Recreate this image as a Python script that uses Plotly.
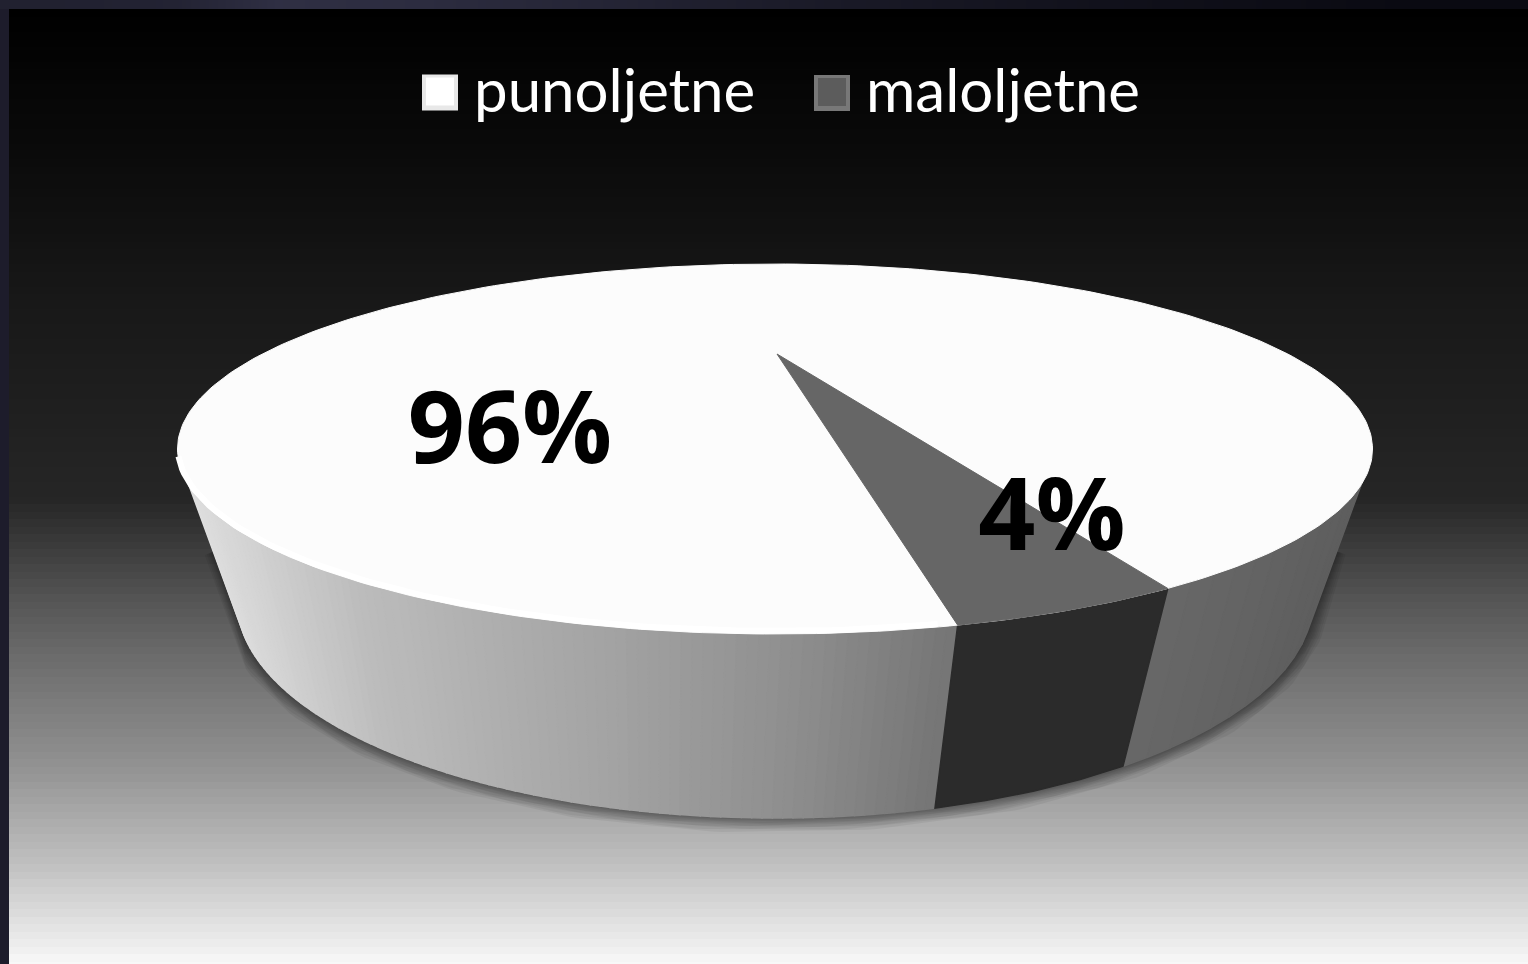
import numpy as np
import plotly.graph_objects as go

# ---- chart data ----
categories = ["punoljetne", "maloljetne"]
values = [96, 4]
value_labels = ["96%", "4%"]
label_x = [510, 1052]
label_y = [438, 525]
legend_marker_x = [440, 832]
legend_text_x = [474, 866]
legend_y = [97, 97]
legend_marker_y = [92.5, 93]
top_colors = ["#fcfcfc", "#666666"]
legend_outer = ["#e8e8e8", "#787878"]
legend_inner = ["#ffffff", "#5c5c5c"]

# ---- projection of the tilted pie ----
CX, CY, RX, RY = 775, 449, 597.5, 185
BCY, BRX, BRY = 600, 538, 218
APEX = (777, 354)
START_DEG = 48.9
PERSPECTIVE = 1.618
SIDE_LEFT_DEG, SIDE_RIGHT_DEG = 168.8, 11.2
BOT_LEFT_DEG, BOT_RIGHT_DEG = 171.6, 8.4

# ---- background gradient ----
bg_stop_y = [9, 150, 300, 420, 500, 600, 664, 764, 864, 964]
bg_stop_v = [0, 10, 24, 32, 38, 85, 110, 145, 192, 248]
bg_edges = list(np.arange(9, 972, 7.5))
bg_vals = [[float(np.interp(y + 3.75, bg_stop_y, bg_stop_v))] for y in bg_edges[:-1]]
strip_x = [0, 120, 230, 330, 500, 700, 1000, 1300, 1528]
strip_v = [30, 32, 45, 42, 34, 22, 12, 6, 6]

# side shading stops
shade_x = [190, 360, 600, 800, 950]
shade_v = [222, 188, 164, 142, 118]
right_x = [1165, 1350]
right_v = [104, 94]
wedge_side = "#2b2b2b"


def top_pt(t):
    r = np.radians(t)
    return CX + RX * np.cos(r), CY + RY * np.sin(r)


def bot_pt(t):
    r = np.radians(t)
    return CX + BRX * np.cos(r), BCY + BRY * np.sin(r)


def grey(v):
    v = int(round(v))
    return f"rgb({v},{v},{v})"


total = sum(values)
wedge_span = values[1] / total * 360 * PERSPECTIVE
wedge_a, wedge_b = START_DEG, START_DEG + wedge_span

GRAY = [[0, "#000000"], [1, "#ffffff"]]
fig = go.Figure()

# background panel
fig.add_trace(go.Heatmap(x=[9, 1528], y=bg_edges, z=bg_vals, colorscale=GRAY, zmin=0, zmax=255,
                         showscale=False, hoverinfo="skip"))
fig.add_trace(go.Heatmap(x=strip_x, y=[0, 9], z=[[float(v) for v in strip_v[:-1]]],
                         colorscale=[[0, "#04040a"], [1, "#34344a"]], zmin=0, zmax=50,
                         showscale=False, hoverinfo="skip", zsmooth="best"))

# soft shadow round the base
ts = np.linspace(BOT_LEFT_DEG, BOT_RIGHT_DEG, 160)
sx, sy = bot_pt(ts)
x0, y0 = top_pt(SIDE_LEFT_DEG)
x1, y1 = top_pt(SIDE_RIGHT_DEG)
sx = np.r_[x0 + 30, sx, x1 - 30]
sy = np.r_[y0 + 65, sy, y1 + 65]
for w in [30, 26, 22, 19, 16, 13, 10, 7, 4]:
    fig.add_trace(go.Scatter(x=sx, y=sy, mode="lines", line=dict(color="rgba(0,0,0,0.055)", width=w),
                             hoverinfo="skip", showlegend=False))


def side_segment(t_a, t_b, b_a, b_b, color):
    ta = np.linspace(t_a, t_b, 5)
    tb = np.linspace(b_b, b_a, 5)
    xa, ya = top_pt(ta)
    xb, yb = bot_pt(tb)
    fig.add_trace(go.Scatter(x=np.r_[xa, xb, xa[0]], y=np.r_[ya, yb, ya[0]], mode="lines", fill="toself",
                             fillcolor=color, line=dict(color=color, width=1.5),
                             hoverinfo="skip", showlegend=False))


def bmap(t):
    # maps top-rim angle to base-rim angle
    return np.interp(t, [SIDE_RIGHT_DEG, wedge_a, wedge_b, SIDE_LEFT_DEG],
                     [BOT_RIGHT_DEG, 49.7, 72.7, BOT_LEFT_DEG])


edges = np.linspace(SIDE_LEFT_DEG, wedge_b, 91)
for a, b in zip(edges[:-1], edges[1:]):
    xm = top_pt((a + b) / 2)[0]
    side_segment(a, b, bmap(a), bmap(b), grey(np.interp(xm, shade_x, shade_v)))
edges = np.linspace(wedge_a, SIDE_RIGHT_DEG, 13)
for a, b in zip(edges[:-1], edges[1:]):
    xm = top_pt((a + b) / 2)[0]
    side_segment(a, b, bmap(a), bmap(b), grey(np.interp(xm, right_x, right_v)))
side_segment(wedge_b, wedge_a, bmap(wedge_b), bmap(wedge_a), wedge_side)

# top face: large slice is the whole ellipse, small slice over it
ta = np.linspace(0, 360, 361)
ex, ey = top_pt(ta)
fig.add_trace(go.Scatter(x=ex, y=ey, mode="lines", fill="toself", fillcolor=top_colors[0],
                         line=dict(color=top_colors[0], width=1), hoverinfo="skip", showlegend=False))
tb = np.linspace(SIDE_LEFT_DEG + 8, wedge_b + 2, 80)
rx_, ry_ = top_pt(tb)
fig.add_trace(go.Scatter(x=rx_, y=ry_ - 3, mode="lines", line=dict(color="#ffffff", width=6),
                         hoverinfo="skip", showlegend=False))
tw = np.linspace(wedge_a, wedge_b, 30)
wx, wy = top_pt(tw)
fig.add_trace(go.Scatter(x=np.r_[APEX[0], wx, APEX[0]], y=np.r_[APEX[1], wy, APEX[1]], mode="lines",
                         fill="toself", fillcolor=top_colors[1], line=dict(color=top_colors[1], width=1),
                         hoverinfo="skip", showlegend=False))

# percentage labels
fig.add_trace(go.Scatter(x=label_x, y=label_y, mode="text", text=value_labels,
                         textposition="middle center",
                         textfont=dict(family="Open Sans", size=100, color="#000000", weight="bold"),
                         hoverinfo="skip", showlegend=False))

# legend
fig.add_trace(go.Scatter(x=legend_marker_x, y=legend_marker_y, mode="markers",
                         marker=dict(symbol="square", size=36, color=legend_outer),
                         hoverinfo="skip", showlegend=False))
fig.add_trace(go.Scatter(x=legend_marker_x, y=[v - 1 for v in legend_marker_y], mode="markers",
                         marker=dict(symbol="square", size=28, color=legend_inner),
                         hoverinfo="skip", showlegend=False))
fig.add_trace(go.Scatter(x=legend_text_x, y=legend_y, mode="text", text=categories,
                         textposition="middle right",
                         textfont=dict(family="Lato", size=60, color="#ffffff"),
                         hoverinfo="skip", showlegend=False))

fig.update_layout(
    width=1528, height=964, autosize=False,
    margin=dict(l=0, r=0, t=0, b=0),
    paper_bgcolor="#1d1c2b", plot_bgcolor="#1d1c2b",
    xaxis=dict(range=[0, 1528], visible=False, fixedrange=True),
    yaxis=dict(range=[964, 0], visible=False, fixedrange=True),
    showlegend=False,
)
fig.write_html("out.html", config={"displayModeBar": False},
               post_script="document.body.style.margin='0';document.body.style.overflow='hidden';")
